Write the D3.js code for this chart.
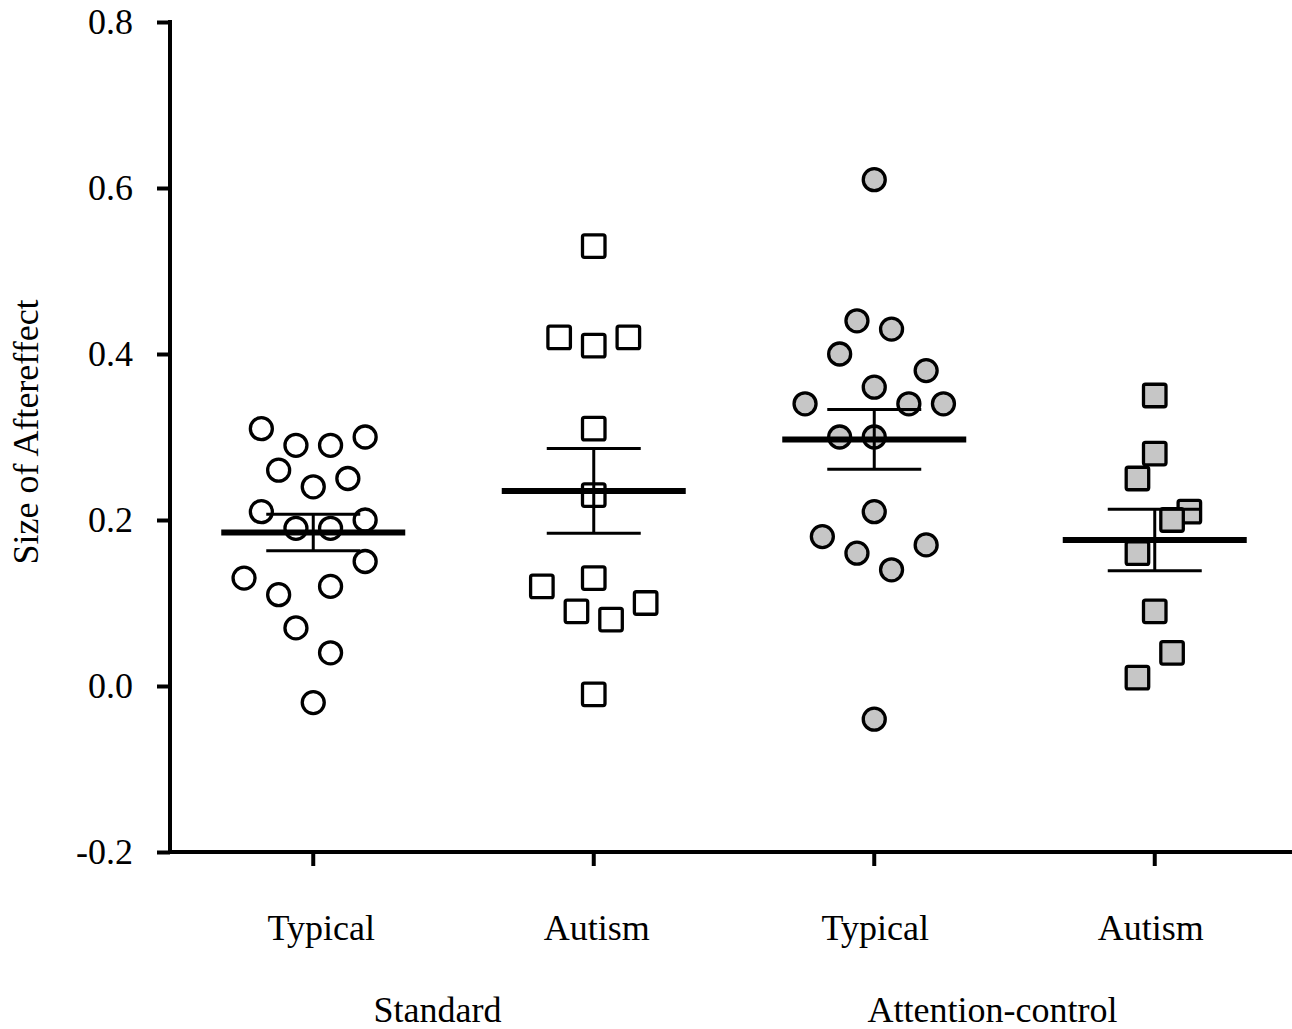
<!DOCTYPE html>
<html>
<head>
<meta charset="utf-8">
<script src="https://cdn.jsdelivr.net/npm/d3@7"></script>
<style>
  html, body { margin: 0; padding: 0; background: #fff; }
  text { font-family: "Liberation Serif", "Times New Roman", serif; fill: #000; }
</style>
</head>
<body>
<svg id="chart" width="1292" height="1029"></svg>
<script>
// ---------- data ----------
const groups = ["Standard-Typical", "Standard-Autism", "Attention-Typical", "Attention-Autism"];
const groupLabels = ["Typical", "Autism", "Typical", "Autism"];
const conditions = ["Standard", "Attention-control"];
const yTicks = [-0.2, 0.0, 0.2, 0.4, 0.6, 0.8];

const stdTypicalValues = [0.31, 0.29, 0.29, 0.30, 0.26, 0.25, 0.24, 0.21, 0.19, 0.19, 0.20, 0.15, 0.13, 0.11, 0.12, 0.07, 0.04, -0.02];
const stdTypicalSlots  = [-3, -1, 1, 3, -2, 2, 0, -3, -1, 1, 3, 3, -4, -2, 1, -1, 1, 0];

const stdAutismValues = [0.53, 0.42, 0.41, 0.42, 0.31, 0.23, 0.13, 0.12, 0.09, 0.08, 0.10, -0.01];
const stdAutismSlots  = [0, -2, 0, 2, 0, 0, 0, -3, -1, 1, 3, 0];

const attTypicalValues = [0.61, 0.44, 0.43, 0.40, 0.38, 0.36, 0.34, 0.34, 0.34, 0.30, 0.30, 0.21, 0.18, 0.16, 0.14, 0.17, -0.04];
const attTypicalSlots  = [0, -1, 1, -2, 3, 0, -4, 2, 4, -2, 0, 0, -3, -1, 1, 3, 0];

const attAutismValues = [0.35, 0.28, 0.25, 0.21, 0.20, 0.16, 0.09, 0.04, 0.01];
const attAutismSlots  = [0, 0, -1, 2, 1, -1, 0, 1, -1];

const groupMeans = [0.185, 0.235, 0.297, 0.176];
const groupSEM   = [0.022, 0.051, 0.036, 0.037];

// ---------- layout ----------
const svg = d3.select("#chart");
const W = 1292, H = 1029;
const yAxisX = 170;

const x = d3.scaleBand().domain(groups).range([173, 1295]).padding(0);
const cx = g => x(g) + x.bandwidth() / 2;
const y = d3.scaleLinear().domain([-0.2, 0.8]).range([852, 22]);
const slot = d3.scaleLinear().domain([0, 1]).range([0, 17.3]);
const fmt = v => d3.format(".1f")(v).replace("\u2212", "-");

const series = [
  { g: groups[0], values: stdTypicalValues, slots: stdTypicalSlots, shape: "circle", fill: "#ffffff" },
  { g: groups[1], values: stdAutismValues,  slots: stdAutismSlots,  shape: "square", fill: "#ffffff" },
  { g: groups[2], values: attTypicalValues, slots: attTypicalSlots, shape: "circle", fill: "#c6c6c6" },
  { g: groups[3], values: attAutismValues,  slots: attAutismSlots,  shape: "square", fill: "#c6c6c6" }
];

// ---------- points ----------
const R = 11, S = 22.5;
series.forEach(s => {
  const pts = s.values.map((v, i) => ({ v, k: s.slots[i] }));
  const gSel = svg.append("g");
  if (s.shape === "circle") {
    gSel.selectAll("circle").data(pts).join("circle")
      .attr("cx", d => cx(s.g) + slot(d.k))
      .attr("cy", d => y(d.v))
      .attr("r", R)
      .attr("fill", s.fill)
      .attr("stroke", "#000")
      .attr("stroke-width", 3.3);
  } else {
    gSel.selectAll("rect").data(pts).join("rect")
      .attr("x", d => cx(s.g) + slot(d.k) - S / 2)
      .attr("y", d => y(d.v) - S / 2)
      .attr("width", S).attr("height", S)
      .attr("rx", 2).attr("ry", 2)
      .attr("fill", s.fill)
      .attr("stroke", "#000")
      .attr("stroke-width", 3.3);
  }
});

// ---------- mean & SEM ----------
const meanHalf = 92, capHalf = 47;
const stats = groups.map((g, i) => ({ g, m: groupMeans[i], e: groupSEM[i] }));
const sg = svg.append("g");
stats.forEach(d => {
  const c = cx(d.g);
  sg.append("line").attr("x1", c).attr("x2", c)
    .attr("y1", y(d.m + d.e)).attr("y2", y(d.m - d.e))
    .attr("stroke", "#000").attr("stroke-width", 3);
  [d.m + d.e, d.m - d.e].forEach(v => {
    sg.append("line").attr("x1", c - capHalf).attr("x2", c + capHalf)
      .attr("y1", y(v)).attr("y2", y(v))
      .attr("stroke", "#000").attr("stroke-width", 3);
  });
  sg.append("line").attr("x1", c - meanHalf).attr("x2", c + meanHalf)
    .attr("y1", y(d.m)).attr("y2", y(d.m))
    .attr("stroke", "#000").attr("stroke-width", 6);
});

// ---------- axes ----------
const yAxis = d3.axisLeft(y).tickValues(yTicks).tickFormat(fmt)
  .tickSize(13).tickSizeOuter(0).tickPadding(24);
const yg = svg.append("g").attr("transform", `translate(${yAxisX},0)`).call(yAxis);
yg.select(".domain").remove();
yg.selectAll(".tick line").attr("stroke", "#000").attr("stroke-width", 4);
yg.selectAll(".tick text").attr("font-size", 36).attr("font-family", "Liberation Serif, serif");
svg.append("line").attr("x1", yAxisX).attr("x2", yAxisX)
  .attr("y1", y(0.8) - 2).attr("y2", y(-0.2) + 2)
  .attr("stroke", "#000").attr("stroke-width", 4);

const xAxis = d3.axisBottom(x).tickFormat((d, i) => groupLabels[i])
  .tickSize(14).tickSizeOuter(0).tickPadding(48);
const xg = svg.append("g").attr("transform", `translate(0,${y(-0.2)})`).call(xAxis);
xg.select(".domain").remove();
xg.selectAll(".tick line").attr("stroke", "#000").attr("stroke-width", 4);
xg.selectAll(".tick text").attr("font-size", 36).attr("font-family", "Liberation Serif, serif")
  .attr("dx", (d, i) => [8, 3, 1, -4][i]);
svg.append("line").attr("x1", yAxisX - 2).attr("x2", W)
  .attr("y1", y(-0.2)).attr("y2", y(-0.2))
  .attr("stroke", "#000").attr("stroke-width", 4);

// condition labels
conditions.forEach((c, i) => {
  const mid = (cx(groups[2 * i]) + cx(groups[2 * i + 1])) / 2;
  svg.append("text").attr("x", mid - [16, 22][i]).attr("y", 1022)
    .attr("text-anchor", "middle").attr("font-size", 36).text(c);
});

// y title
svg.append("text")
  .attr("transform", `translate(38,432) rotate(-90)`)
  .attr("text-anchor", "middle").attr("font-size", 36)
  .text("Size of Aftereffect");
</script>
</body>
</html>
